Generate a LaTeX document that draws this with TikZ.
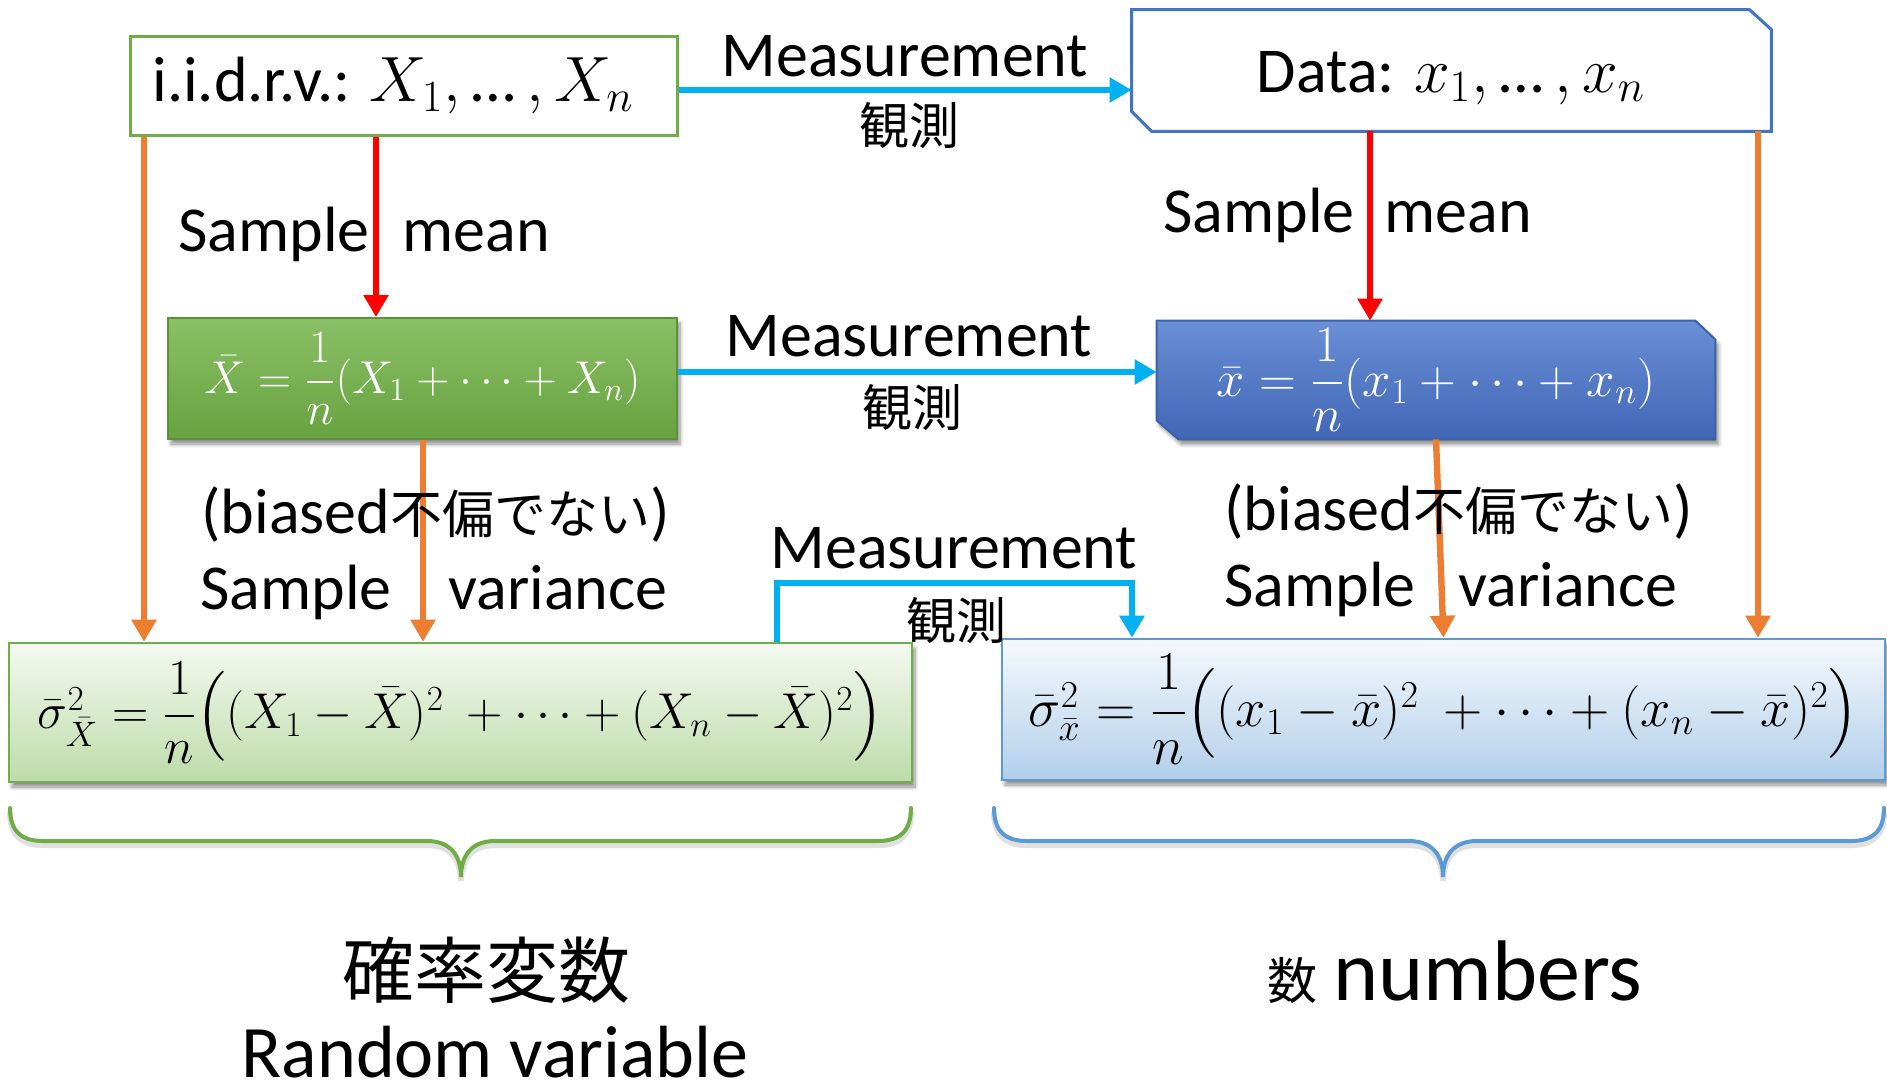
\documentclass[tikz,border=0pt]{standalone}
\usepackage{fix-cm}
\usepackage{amsmath}
\usepackage{fontspec}
\setmainfont{Carlito}
\newfontfamily\jpfont{Noto Sans CJK JP}
\usetikzlibrary{arrows.meta,shadows.blur,calc}

\definecolor{ogreen}{HTML}{70AD47}
\definecolor{oblue}{HTML}{4472C4}
\definecolor{lblue}{HTML}{5B9BD5}
\definecolor{ocyan}{HTML}{00B0F0}
\definecolor{oorange}{HTML}{ED7D31}
\definecolor{gtop}{HTML}{8AC066}
\definecolor{gbot}{HTML}{67A23F}
\definecolor{gedge}{HTML}{5A9236}
\definecolor{btop}{HTML}{6A8FD6}
\definecolor{bbot}{HTML}{4166B5}
\definecolor{bedge}{HTML}{3B61AA}
\definecolor{lgtop}{HTML}{F4F9F0}
\definecolor{lgbot}{HTML}{BDDCA9}
\definecolor{lbtop}{HTML}{F5F9FD}
\definecolor{lbbot}{HTML}{B2CFEA}

\tikzset{
  lbl/.style={font=\fontsize{32}{38}\selectfont, inner sep=0pt},
  jp/.style={font=\fontsize{25}{30}\selectfont\jpfont, inner sep=0pt},
  arr/.style={line width=3.2pt, -{Triangle[width=12pt,length=11pt]}},
  meas/.style={arr, draw=ocyan},
  meanarr/.style={arr, draw=red},
  vararr/.style={arr, draw=oorange},
  boxshadow/.style={blur shadow={shadow xshift=1.5pt, shadow yshift=-2.5pt,
      shadow opacity=45, shadow blur steps=6}},
  frame/.style={inner sep=0pt, draw=none},
  brace/.style={line width=2pt, line cap=round},
  braceshade/.style={line width=3pt, draw=black, opacity=0.12},
}

\begin{document}
\begin{tikzpicture}[x=0.5pt, y=-0.5pt]
\useasboundingbox (0,0) rectangle (1887,1084);

% --- top row -------------------------------------------------------------
\node[draw=ogreen, line width=1.5pt, fill=white, minimum width=273.5pt,
      minimum height=49.5pt, inner sep=0pt] (iid) at (403.5,85.5)
  {\fontsize{32}{38}\selectfont\makebox[251pt][l]{i.i.d.r.v.: $X_1,\,$…$\,,X_n$}};

% data box: rectangle with the top right and bottom left corners cut off
\node[frame, minimum width=319.5pt, minimum height=60.5pt] (data) at (1451.5,70.5) {};
\draw[oblue, line width=1.5pt, fill=white, line join=miter]
  (data.north west) -- ($(data.north east)+(-22,0)$) -- ($(data.north east)+(0,20)$)
  -- (data.south east) -- ($(data.south west)+(20,0)$) -- ($(data.south west)+(0,-20)$)
  -- cycle;
\node[inner sep=0pt, font=\fontsize{32}{38}\selectfont, anchor=base]
  (datatxt) at (1451,92) {Data: $x_1,\,$…$\,,x_n$};

% --- sample means --------------------------------------------------------
\node[draw=gedge, line width=1pt, top color=gtop, bottom color=gbot, boxshadow,
      minimum width=254.5pt, minimum height=60.5pt, inner sep=0pt,
      text=white] (xbar) at (422.5,378.5)
  {\fontsize{23}{28}\selectfont $\bar{X}=\dfrac{1}{n}(X_1+\cdots+X_n)$};

\node[frame, minimum width=279pt, minimum height=59pt] (xbarv) at (1436,380) {};
\path[draw=bedge, line width=1pt, top color=btop, bottom color=bbot, boxshadow]
  (xbarv.north west) -- ($(xbarv.north east)+(-20,0)$) -- ($(xbarv.north east)+(0,19)$)
  -- (xbarv.south east) -- ($(xbarv.south west)+(22,0)$) -- ($(xbarv.south west)+(0,-19)$)
  -- cycle;
\node[inner sep=0pt, text=white] (xbarvtxt) at (xbarv.center)
  {\fontsize{25.5}{30}\selectfont $\bar{x}=\dfrac{1}{n}(x_1+\cdots+x_n)$};

% --- sample variances ----------------------------------------------------
\node[draw=ogreen, line width=1.3pt, top color=lgtop, bottom color=lgbot,
      boxshadow, minimum width=451.5pt, minimum height=69.5pt,
      inner sep=0pt] (varX) at (460.5,712.5)
  {\fontsize{25.2}{30}\selectfont
   $\bar{\sigma}^2_{\bar{X}}=\dfrac{1}{n}\Big((X_1-\bar{X})^2\ +\cdots+(X_n-\bar{X})^2\Big)$};

\node[draw=lblue, line width=1.3pt, top color=lbtop, bottom color=lbbot,
      boxshadow, minimum width=441.5pt, minimum height=70.5pt,
      inner sep=0pt] (varx) at (1443.5,709.5)
  {\fontsize{27.2}{32}\selectfont
   $\bar{\sigma}^2_{\bar{x}}=\dfrac{1}{n}\Big((x_1-\bar{x})^2\ +\cdots+(x_n-\bar{x})^2\Big)$};

% --- bend points ---------------------------------------------------------
\coordinate (mL) at (777,583);
\coordinate (mR) at (1132,583);

% --- measurement arrows ----------------------------------------------------
\draw[meas] (iid.east |- 0,90) -- (data.west |- 0,90);
\draw[meas] (xbar.east |- 0,372) -- (xbarv.west |- 0,372);
\draw[meas] (varX.north -| mL) |- (mR) -- (varx.north -| mR);

% --- sample mean arrows --------------------------------------------------
\draw[meanarr] (iid.south -| 376,0) -- (xbar.north -| 376,0);
\draw[meanarr] (data.south -| 1370,0) -- (xbarv.north -| 1370,0);

% --- sample variance arrows ----------------------------------------------
\draw[vararr] (iid.south -| 144,0) -- (varX.north -| 144,0);
\draw[vararr] (xbar.south -| 423,0) -- (varX.north -| 423,0);
\draw[vararr] (xbarv.south) -- (varx.north);
\draw[vararr] (data.south -| 1758,0) -- (varx.north -| 1758,0);

% --- labels ----------------------------------------------------------------
\node[lbl, anchor=base] (meas1) at (905,76) {Measurement};
\node[jp] (obs1) at (909,126) {観測};
\node[lbl, anchor=base] (meas2) at (909,356) {Measurement};
\node[jp] (obs2) at (912,408) {観測};
\node[lbl, anchor=base] (meas3) at (954,568) {Measurement};
\node[jp] (obs3) at (956,621) {観測};

\node[lbl, anchor=base west] (smL1) at (178,251) {Sample};
\node[lbl, anchor=base west] (smL2) at (402,251) {mean};
\node[lbl, anchor=base west] (smR1) at (1163,232) {Sample};
\node[lbl, anchor=base west] (smR2) at (1384,232) {mean};

\node[lbl, anchor=base west] (bL) at (201,533)
  {(biased{\fontsize{26}{30}\selectfont\jpfont 不偏でない})};
\node[lbl, anchor=base west] (svL1) at (200,609) {Sample};
\node[lbl, anchor=base west] (svL2) at (448,609) {variance};
\node[lbl, anchor=base west] (bR) at (1224,530)
  {(biased{\fontsize{26}{30}\selectfont\jpfont 不偏でない})};
\node[lbl, anchor=base west] (svR1) at (1224,606) {Sample};
\node[lbl, anchor=base west] (svR2) at (1458,606) {variance};

% --- braces ------------------------------------------------------------------
\draw[braceshade, yshift=-2pt]
  (10,808) .. controls (10,830) and (20,841) .. (43,841) -- (427,841)
  .. controls (450,841) and (461,855) .. (461,877)
  .. controls (461,855) and (472,841) .. (495,841) -- (878,841)
  .. controls (901,841) and (911,830) .. (911,808);
\draw[brace, draw=ogreen]
  (10,808) .. controls (10,830) and (20,841) .. (43,841) -- (427,841)
  .. controls (450,841) and (461,855) .. (461,877)
  .. controls (461,855) and (472,841) .. (495,841) -- (878,841)
  .. controls (901,841) and (911,830) .. (911,808);
\draw[braceshade, yshift=-2pt]
  (994,808) .. controls (994,830) and (1004,841) .. (1027,841) -- (1409,841)
  .. controls (1432,841) and (1443,855) .. (1443,877)
  .. controls (1443,855) and (1454,841) .. (1477,841) -- (1851,841)
  .. controls (1874,841) and (1884,830) .. (1884,808);
\draw[brace, draw=lblue]
  (994,808) .. controls (994,830) and (1004,841) .. (1027,841) -- (1409,841)
  .. controls (1432,841) and (1443,855) .. (1443,877)
  .. controls (1443,855) and (1454,841) .. (1477,841) -- (1851,841)
  .. controls (1874,841) and (1884,830) .. (1884,808);

% --- group captions ----------------------------------------------------------
\node[font=\fontsize{36}{40}\selectfont\jpfont, inner sep=0pt] (rvjp) at (486,970) {確率変数};
\node[font=\fontsize{37}{42}\selectfont, inner sep=0pt, text depth=0pt, anchor=base]
  (rv) at (495,1077) {Random variable};
\node[font=\fontsize{43}{50}\selectfont, inner sep=0pt, anchor=base west] (num) at (1333,1000) {numbers};
\node[jp] (numjp) at (1292,981) {数};
\end{tikzpicture}
\end{document}
